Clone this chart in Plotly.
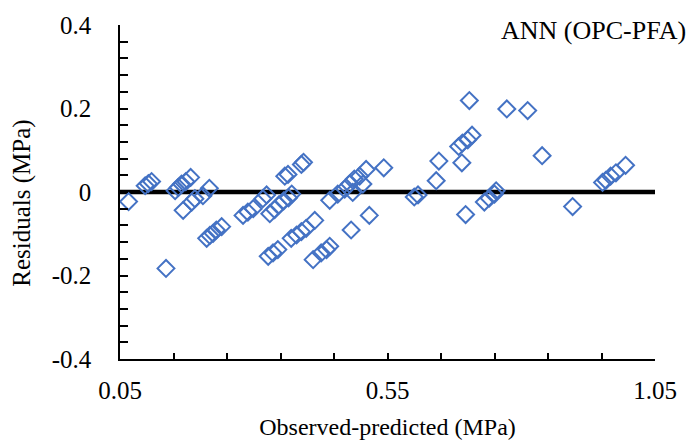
import plotly.graph_objects as go

# Observed-predicted values (MPa) and the corresponding residuals (MPa)
observed_predicted = [
    0.066, 0.097, 0.103, 0.109, 0.136, 0.153, 0.159, 0.165, 0.173, 0.182,
    0.168, 0.184, 0.190, 0.205, 0.217, 0.212, 0.218, 0.224, 0.230, 0.240,
    0.280, 0.289, 0.299, 0.317, 0.324, 0.330, 0.339, 0.347, 0.356, 0.365,
    0.371, 0.358, 0.364, 0.389, 0.393, 0.327, 0.336, 0.345, 0.370, 0.380,
    0.389, 0.398, 0.414, 0.411, 0.426, 0.436, 0.442, 0.482, 0.516, 0.442,
    0.457, 0.470, 0.479, 0.488, 0.498, 0.510, 0.543, 0.485, 0.504, 0.600,
    0.607, 0.641, 0.646, 0.689, 0.683, 0.690, 0.700, 0.708, 0.703, 0.696,
    0.731, 0.740, 0.750, 0.753, 0.773, 0.812, 0.839, 0.896, 0.952, 0.958,
    0.967, 0.977, 0.995,
]
residuals = [
    -0.023, 0.015, 0.020, 0.025, -0.183, 0.003, 0.011, 0.019, 0.025, 0.035,
    -0.044, -0.024, -0.016, -0.009, 0.009, -0.111, -0.104, -0.099, -0.091, -0.083,
    -0.056, -0.048, -0.040, -0.016, -0.007, -0.052, -0.042, -0.031, -0.021, -0.014,
    -0.005, 0.038, 0.042, 0.066, 0.071, -0.154, -0.146, -0.138, -0.111, -0.103,
    -0.095, -0.087, -0.068, -0.162, -0.146, -0.138, -0.130, -0.091, -0.056, -0.020,
    -0.005, 0.007, 0.019, 0.031, 0.038, 0.054, 0.058, -0.001, 0.019, -0.012,
    -0.007, 0.027, 0.074, 0.070, 0.109, 0.117, 0.125, 0.136, 0.219, -0.054,
    -0.024, -0.015, -0.005, 0.003, 0.199, 0.195, 0.087, -0.035, 0.023, 0.028,
    0.038, 0.046, 0.064,
]

x_range = [0.05, 1.05]
y_range = [-0.4, 0.4]
x_tick_values = [0.05, 0.55, 1.05]
x_tick_labels = ["0.05", "0.55", "1.05"]
y_tick_values = [-0.4, -0.2, 0.0, 0.2, 0.4]
y_tick_labels = ["-0.4", "-0.2", "0", "0.2", "0.4"]

FONT = "Liberation Serif, Times New Roman, serif"

fig = go.Figure()

# zero-residual reference line
fig.add_trace(go.Scatter(
    x=x_range, y=[0, 0], mode="lines",
    line=dict(color="black", width=4.5),
    hoverinfo="skip", showlegend=False, cliponaxis=False,
))

fig.add_trace(go.Scatter(
    x=observed_predicted, y=residuals, mode="markers",
    marker=dict(symbol="diamond-open", size=13, color="#4472C4",
                line=dict(width=2, color="#4472C4")),
    showlegend=False, cliponaxis=False,
))

fig.add_annotation(
    text="ANN (OPC-PFA)", xref="paper", yref="paper",
    x=1.062, y=0.985, xanchor="right", yanchor="middle",
    showarrow=False, font=dict(family=FONT, size=26, color="black"),
)

# vertical axis title, placed as free text
fig.add_annotation(
    text="Residuals (MPa)", xref="paper", yref="paper",
    x=-0.183, y=0.465, xanchor="center", yanchor="middle", textangle=-90,
    showarrow=False, font=dict(family=FONT, size=25, color="black"),
)

fig.update_layout(
    width=691, height=448,
    margin=dict(l=120, r=36, t=23, b=85),
    paper_bgcolor="white", plot_bgcolor="white",
    font=dict(family=FONT, size=25, color="black"),
    xaxis=dict(
        range=x_range, tickmode="array",
        tickvals=x_tick_values, ticktext=x_tick_labels,
        ticks="inside", ticklen=6, tickwidth=1.5, tickcolor="black",
        minor=dict(dtick=0.1, tick0=0.05, ticks="inside", ticklen=6,
                   tickwidth=1.5, tickcolor="black", showgrid=False),
        showline=True, linecolor="black", linewidth=1.5,
        showgrid=False, zeroline=False,
        ticklabelstandoff=8,
        tickfont=dict(family=FONT, size=25),
        title=dict(text="Observed-predicted (MPa)", font=dict(family=FONT, size=24),
                   standoff=15),
    ),
    yaxis=dict(
        range=y_range, tickmode="array",
        tickvals=y_tick_values, ticktext=y_tick_labels,
        ticks="inside", ticklen=8, tickwidth=1.5, tickcolor="black",
        minor=dict(dtick=0.04, tick0=0, ticks="inside", ticklen=8,
                   tickwidth=1.5, tickcolor="black", showgrid=False),
        showline=True, linecolor="black", linewidth=1.5,
        showgrid=False, zeroline=False,
        ticklabelstandoff=22,
        tickfont=dict(family=FONT, size=25),
    ),
)

fig.write_html("out.html")
